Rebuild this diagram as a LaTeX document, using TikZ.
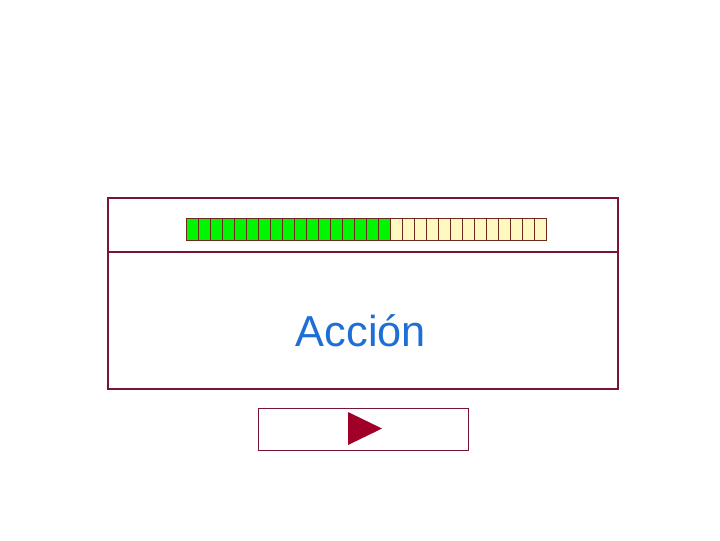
\documentclass[tikz,border=0pt]{standalone}
\usepackage{fontspec}
\setmainfont{Liberation Sans}
\definecolor{framered}{RGB}{122,20,52}
\definecolor{cellline}{RGB}{110,40,30}
\definecolor{donegreen}{RGB}{0,245,0}
\definecolor{todoyellow}{RGB}{255,249,192}
\definecolor{playred}{RGB}{160,0,40}
\definecolor{labelblue}{RGB}{30,110,215}
\tikzset{
	cell/.style={draw=cellline, rectangle, line width=0.75pt, minimum width=9pt, minimum height=16.5pt, inner sep=0pt},
}
\begin{document}
\begin{tikzpicture}[x=0.75pt, y=-0.75pt]
	\useasboundingbox (0,0) rectangle (720,540);
	\node[draw=framered, rectangle, line width=1.5pt, minimum width=382.5pt, minimum height=143.25pt, inner sep=0pt] (Panel) at (363,293.5) {};
	\draw[framered, line width=1.5pt] (Panel.west |- 0,252) -- (Panel.east |- 0,252);
	\foreach \i in {0,...,29} {
		\ifnum\i<17
			\node[cell, fill=donegreen] (cell\i) at (192.7+12*\i,229) {};
		\else
			\node[cell, fill=todoyellow] (cell\i) at (192.7+12*\i,229) {};
		\fi
	}
	\node[text=labelblue, anchor=base, font=\fontsize{32.5}{38}\selectfont] (Accion) at (361,346) {Acción};
	\node[draw=framered, rectangle, line width=0.75pt, minimum width=157.5pt, minimum height=31.5pt, inner sep=0pt] (Play) at (363,429) {};
	\fill[playred] (348,412) -- (382,428.5) -- (348,445) -- cycle;
\end{tikzpicture}
\end{document}
